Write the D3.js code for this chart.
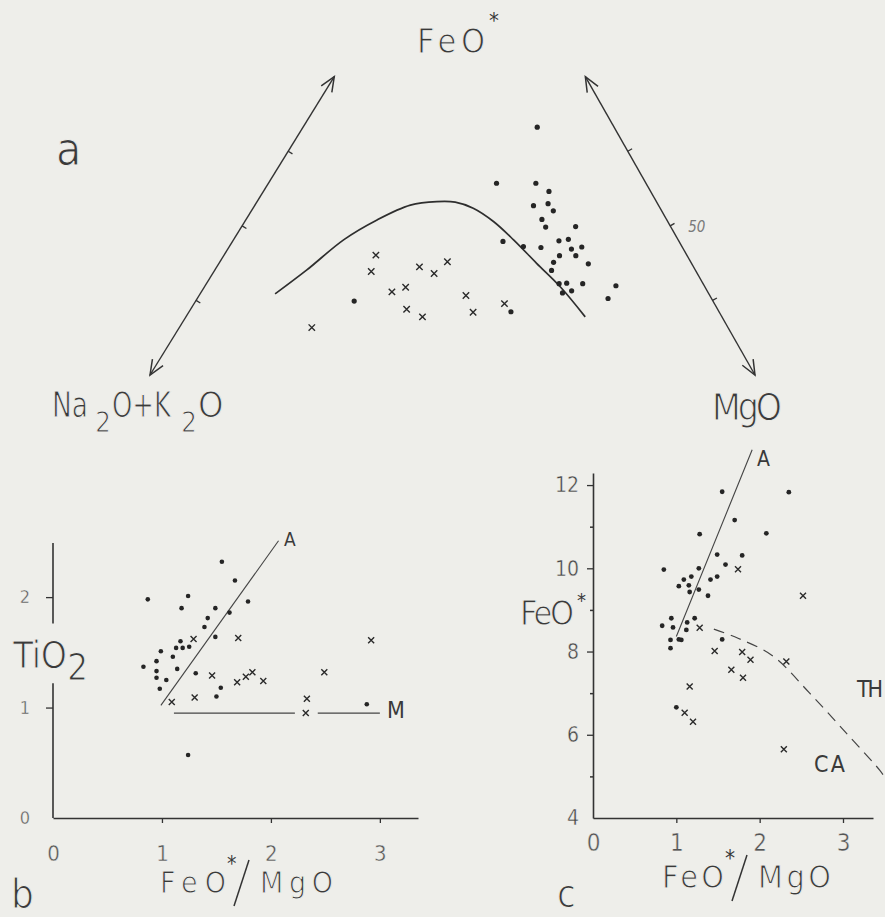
<!DOCTYPE html>
<html>
<head>
<meta charset="utf-8">
<script src="https://cdn.jsdelivr.net/npm/d3@7"></script>
<style>
  body { margin: 0; background: #eeeeea; }
  text { font-family: "DejaVu Sans Condensed", "DejaVu Sans", sans-serif; fill: #3a3a3a; }
  /* scanned lettering is thin: eat into the glyph edges with a paper coloured stroke */
  text.big { stroke: #eeeeea; stroke-width: 1px; }
  .tick text { stroke: #eeeeea; stroke-width: 0.4px; }
</style>
</head>
<body>
<div id="chart"></div>
<script>
// ---- panel a : AFM diagram, values in %  [FeO*, MgO, Na2O+K2O]
var afm_dots = [
  [48.6, 38.7, 12.7], [37.6, 37.7, 24.7], [37.6, 44.2, 18.2], [36.0, 47.2, 16.8],
  [33.2, 46.1, 20.7], [33.6, 48.3, 18.1], [32.2, 49.9, 17.9], [30.5, 48.9, 20.6],
  [29.0, 50.3, 20.7], [29.1, 55.2, 15.7], [26.2, 44.7, 29.1], [25.2, 48.6, 26.2],
  [25.0, 51.6, 23.4], [26.3, 53.9, 19.8], [26.6, 55.3, 18.1], [24.7, 56.8, 18.5],
  [25.1, 58.3, 16.6], [23.4, 55.5, 21.1], [23.4, 58.2, 18.4], [22.1, 55.2, 22.7],
  [21.8, 61.1, 17.1], [20.5, 55.7, 23.8], [17.9, 58.3, 23.8], [18.0, 59.5, 22.5],
  [17.9, 62.2, 19.9], [16.1, 59.8, 24.1], [16.5, 61.1, 22.4], [17.5, 67.9, 14.6],
  [15.0, 67.9, 17.1], [14.5, 26.2, 59.3], [12.4, 53.2, 34.4]
];
var afm_crosses = [
  [23.5, 25.1, 51.4], [20.3, 26.0, 53.7], [21.2, 33.5, 45.3], [19.9, 36.6, 43.5],
  [22.2, 37.6, 40.2], [16.3, 31.5, 52.2], [17.2, 33.3, 49.5], [12.9, 35.7, 51.4],
  [11.4, 39.1, 49.5], [15.6, 44.1, 40.3], [12.3, 47.0, 40.7], [14.0, 51.3, 34.7],
  [9.3, 21.9, 68.8]
];
var afm_boundary = [
  [15.9, 12.4, 71.7], [20.6, 15.2, 64.2], [26.5, 18.2, 55.3], [30.4, 21.7, 47.9],
  [33.3, 25.7, 41.0], [34.0, 29.7, 36.3], [33.9, 32.8, 33.3], [32.7, 36.4, 30.9],
  [30.1, 41.1, 28.8], [26.5, 46.3, 27.2], [21.9, 52.5, 25.6], [17.3, 58.8, 23.9],
  [11.4, 66.0, 22.6]
];
var afm_ticks = [25, 50, 75];

// ---- panel b : FeO*/MgO against TiO2
var b_dot_x = [1.55, 1.67, 0.87, 1.24, 1.79, 1.18, 1.49, 1.62, 1.42, 1.39, 1.49, 1.17, 1.13, 1.19, 1.25,
               0.99, 1.10, 0.95, 0.83, 1.14, 0.95, 0.95, 1.04, 1.31, 0.98, 1.54, 1.50, 2.88, 1.24];
var b_dot_y = [2.32, 2.15, 1.98, 2.01, 1.96, 1.90, 1.90, 1.86, 1.81, 1.73, 1.64, 1.60, 1.54, 1.54, 1.55,
               1.51, 1.46, 1.42, 1.37, 1.35, 1.33, 1.27, 1.25, 1.31, 1.17, 1.18, 1.10, 1.03, 0.57];
var b_cross_x = [1.29, 1.70, 2.92, 1.46, 2.49, 1.69, 1.77, 1.83, 1.93, 1.09, 1.30, 2.33, 2.32];
var b_cross_y = [1.62, 1.63, 1.61, 1.29, 1.32, 1.23, 1.28, 1.32, 1.24, 1.05, 1.09, 1.08, 0.95];
var b_line_A = [[0.99, 1.02], [2.07, 2.51]];
var b_line_M = [[[1.11, 0.95], [2.22, 0.95]], [[2.43, 0.95], [3.0, 0.95]]];
var b_xticks = [0, 1, 2, 3];
var b_yticks = [0, 1, 2];

// ---- panel c : FeO*/MgO against FeO*
var c_dot_x = [1.55, 2.35, 1.70, 1.28, 2.08, 1.49, 1.79, 1.59, 0.85, 1.27, 1.09, 1.18, 1.49, 1.41, 1.03, 1.15,
               1.16, 1.27, 1.38, 0.94, 1.22, 1.13, 0.83, 0.96, 1.12, 0.93, 1.03, 1.06, 0.93, 1.55, 1.00];
var c_dot_y = [11.84, 11.83, 11.16, 10.82, 10.84, 10.33, 10.31, 10.09, 9.97, 10.00, 9.73, 9.80, 9.80, 9.73, 9.57, 9.59,
               9.43, 9.49, 9.34, 8.80, 8.80, 8.70, 8.62, 8.58, 8.52, 8.28, 8.29, 8.28, 8.08, 8.29, 6.66];
var c_cross_x = [1.74, 2.52, 1.28, 1.46, 1.79, 1.89, 2.32, 1.66, 1.80, 1.16, 1.10, 1.20, 2.29];
var c_cross_y = [9.98, 9.34, 8.57, 8.01, 7.99, 7.80, 7.76, 7.56, 7.37, 7.16, 6.53, 6.31, 5.65];
var c_line_A = [[1.00, 8.36], [1.91, 12.85]];
var c_th_ca = [[1.45, 8.54], [1.74, 8.32], [2.16, 7.89], [2.60, 7.00], [3.04, 6.04], [3.44, 5.15], [3.50, 4.98]];
var c_xticks = [0, 1, 2, 3];
var c_yticks = [4, 6, 8, 10, 12];
var c_yminor = [5, 7, 9, 11];

var ink = '#333';
var W = 885, H = 917;

var svg = d3.select('#chart').append('svg')
    .attr('width', W)
    .attr('height', H)
    .style('background', '#eeeeea');

function dots(g, pts, r) {
    g.selectAll(null).data(pts).enter().append('circle')
        .attr('cx', function(d){ return d[0]; })
        .attr('cy', function(d){ return d[1]; })
        .attr('r', r)
        .attr('fill', '#252525');
}

function crosses(g, pts, s) {
    g.selectAll(null).data(pts).enter().append('path')
        .attr('d', 'M' + (-s) + ',' + (-s) + 'L' + s + ',' + s + 'M' + (-s) + ',' + s + 'L' + s + ',' + (-s))
        .attr('transform', function(d){ return 'translate(' + d[0] + ',' + d[1] + ')'; })
        .attr('stroke', '#2a2a2a')
        .attr('stroke-width', 1.4)
        .attr('fill', 'none');
}

function label(g, txt, x, y, size, len, squeeze) {
    var t = g.append('text')
        .attr('x', x).attr('y', y)
        .attr('font-size', size)
        .attr('class', size >= 26 ? 'big' : null)
        .text(txt);
    if (len) t.attr('textLength', len).attr('lengthAdjust', squeeze ? 'spacingAndGlyphs' : 'spacing');
    return t;
}

// ================= panel a =================
var ga = svg.append('g').attr('id', 'afm');
var tern = { A: [150, 375], M: [755, 375], F: [465, -135] };
function afm(d) {
    var f = d[0] / 100, m = d[1] / 100, a = d[2] / 100;
    return [a * tern.A[0] + m * tern.M[0] + f * tern.F[0],
            a * tern.A[1] + m * tern.M[1] + f * tern.F[1]];
}
var reach = 58.5;   // how far toward FeO* the side arrows are drawn

function arrowHead(g, tip, from) {
    var ang = Math.atan2(tip[1] - from[1], tip[0] - from[0]);
    var L = 16, s = 0.4;
    var p1 = [tip[0] - L * Math.cos(ang - s), tip[1] - L * Math.sin(ang - s)];
    var p2 = [tip[0] - L * Math.cos(ang + s), tip[1] - L * Math.sin(ang + s)];
    g.append('path')
        .attr('d', 'M' + p1 + 'L' + tip + 'L' + p2)
        .attr('fill', 'none').attr('stroke', ink).attr('stroke-width', 1.5);
}

function sideArrow(g, bottom, top, side) {
    g.append('line')
        .attr('x1', bottom[0]).attr('y1', bottom[1])
        .attr('x2', top[0]).attr('y2', top[1])
        .attr('stroke', ink).attr('stroke-width', 1.4);
    arrowHead(g, top, bottom);
    arrowHead(g, bottom, top);
    var dx = top[0] - bottom[0], dy = top[1] - bottom[1];
    var len = Math.sqrt(dx * dx + dy * dy);
    var nx = -dy / len * side, ny = dx / len * side;
    afm_ticks.forEach(function(t){
        var px = bottom[0] + dx * t / 100, py = bottom[1] + dy * t / 100;
        g.append('line')
            .attr('x1', px).attr('y1', py)
            .attr('x2', px + nx * 5).attr('y2', py + ny * 5)
            .attr('stroke', ink).attr('stroke-width', 1.3);
    });
}

sideArrow(ga, afm([0, 0, 100]), afm([reach, 0, 100 - reach]), 1);
sideArrow(ga, afm([0, 100, 0]), afm([reach, 100 - reach, 0]), 1);

// "50" beside the right arrow
var mid = afm([reach / 2, 100 - reach / 2, 0]);
ga.append('text')
    .attr('x', mid[0] + 18).attr('y', mid[1] + 6)
    .attr('font-size', 15).attr('font-style', 'italic')
    .style('fill', '#7a7a7a')
    .text('50');

var boundary = d3.line().curve(d3.curveCatmullRom);
ga.append('path')
    .attr('d', boundary(afm_boundary.map(afm)))
    .attr('fill', 'none').attr('stroke', '#2e2e2e').attr('stroke-width', 1.7);

dots(ga, afm_dots.map(afm), 2.6);
crosses(ga, afm_crosses.map(afm), 3.2);

label(ga, 'FeO', 417, 53, 34, 68);
label(ga, '*', 489, 28, 22);
label(ga, 'MgO', 712, 420, 37, 70);
// Na2O+K2O, subscripts as their own texts
[['Na', 52, 417, 36, 36], ['2', 95, 432, 28, 0], ['O+K', 112, 417, 36, 59], ['2', 181, 432, 28, 0], ['O', 198, 417, 36, 0]]
    .forEach(function(p){ label(ga, p[0], p[1], p[2], p[3], p[4], true); });
label(ga, 'a', 56, 165, 46);

// ================= panel b =================
var gb = svg.append('g').attr('id', 'tio2');
var xb = d3.scaleLinear().domain([0, 3.35]).range([53, 418]);
var yb = d3.scaleLinear().domain([0, 2.49]).range([818, 543]);

var bx_axis = gb.append('g')
    .attr('transform', 'translate(0,' + yb(0) + ')')
    .call(d3.axisBottom(xb).tickValues(b_xticks).tickSize(5).tickSizeOuter(0).tickPadding(22).tickFormat(d3.format('d')));
var by_axis = gb.append('g')
    .attr('transform', 'translate(' + xb(0) + ',0)')
    .call(d3.axisLeft(yb).tickValues(b_yticks).tickSize(7).tickSizeOuter(0).tickPadding(16).tickFormat(d3.format('d')));
by_axis.select('.domain').remove();
[[0, 1.22], [1.76, 2.49]].forEach(function(s){
    gb.append('line')
        .attr('x1', xb(0)).attr('x2', xb(0))
        .attr('y1', yb(s[0])).attr('y2', yb(s[1]))
        .attr('stroke', ink).attr('stroke-width', 1.6);
});
by_axis.selectAll('.tick').filter(function(d){ return d === 0; }).select('line').remove();
bx_axis.selectAll('.tick').filter(function(d){ return d === 0; }).select('line').remove();

bx_axis.selectAll('text').attr('font-size', 22).style('fill', '#555').attr('font-family', null);
by_axis.selectAll('text').attr('font-size', 18).style('fill', '#555').attr('font-family', null);
[bx_axis, by_axis].forEach(function(ax){
    ax.select('.domain').attr('stroke', ink).attr('stroke-width', 1.6);
    ax.selectAll('.tick line').attr('stroke', ink).attr('stroke-width', 1.3);
});

var ref = d3.line().x(function(d){ return xb(d[0]); }).y(function(d){ return yb(d[1]); });
gb.append('path').attr('d', ref(b_line_A)).attr('fill', 'none').attr('stroke', '#444').attr('stroke-width', 1.1);
b_line_M.forEach(function(seg){
    gb.append('path').attr('d', ref(seg)).attr('fill', 'none').attr('stroke', '#444').attr('stroke-width', 1.1);
});

dots(gb, b_dot_x.map(function(v, i){ return [xb(v), yb(b_dot_y[i])]; }), 2.3);
crosses(gb, b_cross_x.map(function(v, i){ return [xb(v), yb(b_cross_y[i])]; }), 3);

label(gb, 'A', 284, 546, 19);
label(gb, 'M', 387, 718, 23);
label(gb, 'TiO', 13, 668, 37, 54);
label(gb, '2', 67, 680, 37);

function ratioTitle(g, x0, base, size, parts) {
    label(g, 'FeO', x0, base, size, parts[0]);
    label(g, '*', x0 + parts[0] + 1, base - 22, size * 0.7);
    var sx = x0 + parts[0] + 8;
    g.append('line')
        .attr('x1', sx).attr('y1', base + 13)
        .attr('x2', sx + 15).attr('y2', base - 33)
        .attr('stroke', ink).attr('stroke-width', 1.5);
    label(g, 'MgO', sx + 26, base, size, parts[1]);
}
ratioTitle(gb, 160, 893, 30, [66, 73]);
label(gb, 'b', 11, 908, 40);

// ================= panel c =================
var gc = svg.append('g').attr('id', 'feo');
var xc = d3.scaleLinear().domain([0, 3.36]).range([593, 873]);
var yc = d3.scaleLinear().domain([4, 12.29]).range([818, 473]);

var cx_axis = gc.append('g')
    .attr('transform', 'translate(0,' + yc(4) + ')')
    .call(d3.axisBottom(xc).tickValues(c_xticks).tickSize(5).tickSizeOuter(0).tickPadding(11).tickFormat(d3.format('d')));
var cy_axis = gc.append('g')
    .attr('transform', 'translate(' + xc(0) + ',0)')
    .call(d3.axisLeft(yc).tickValues(c_yticks).tickSize(6).tickSizeOuter(0).tickPadding(8).tickFormat(d3.format('d')));
gc.append('g')
    .attr('transform', 'translate(' + xc(0) + ',0)')
    .call(d3.axisLeft(yc).tickValues(c_yminor).tickSize(3).tickFormat(''))
    .call(function(g){ g.select('.domain').remove(); })
    .selectAll('line').attr('stroke', ink).attr('stroke-width', 1.5);
cx_axis.selectAll('.tick').filter(function(d){ return d === 0; }).select('line').remove();
cy_axis.selectAll('.tick').filter(function(d){ return d === 4; }).select('line').remove();

cx_axis.selectAll('text').attr('font-size', 24).style('fill', '#555').attr('font-family', null);
cy_axis.selectAll('text').attr('font-size', 21).style('fill', '#444').attr('font-family', null);
[cx_axis, cy_axis].forEach(function(ax){
    ax.select('.domain').attr('stroke', ink).attr('stroke-width', 1.6);
    ax.selectAll('.tick line').attr('stroke', ink).attr('stroke-width', 1.3);
});

var refc = d3.line().x(function(d){ return xc(d[0]); }).y(function(d){ return yc(d[1]); });
gc.append('path').attr('d', refc(c_line_A)).attr('fill', 'none').attr('stroke', '#444').attr('stroke-width', 1.1);
gc.append('path').attr('d', refc.curve(d3.curveCatmullRom)(c_th_ca))
    .attr('fill', 'none').attr('stroke', '#444').attr('stroke-width', 1.2)
    .attr('stroke-dasharray', '11,7');

dots(gc, c_dot_x.map(function(v, i){ return [xc(v), yc(c_dot_y[i])]; }), 2.4);
crosses(gc, c_cross_x.map(function(v, i){ return [xc(v), yc(c_cross_y[i])]; }), 3);

label(gc, 'A', 757, 466, 21);
label(gc, 'TH', 857, 697, 23, 26);
label(gc, 'CA', 814, 772, 23, 31);
label(gc, 'FeO', 520, 625, 34, 54);
label(gc, '*', 577, 607, 20);
ratioTitle(gc, 662, 888, 32, [62, 73]);
label(gc, 'c', 557, 907, 38);
</script>
</body>
</html>
